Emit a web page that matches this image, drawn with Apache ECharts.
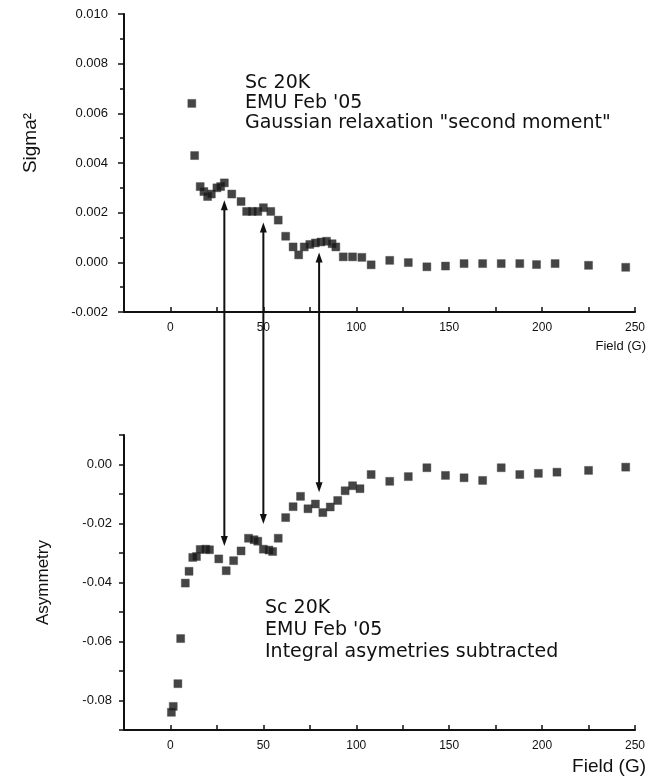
<!DOCTYPE html>
<html>
<head>
<meta charset="utf-8">
<script src="https://cdn.jsdelivr.net/npm/echarts@6/dist/echarts.min.js"></script>
<style>
  html, body { margin: 0; padding: 0; background: #fff; }
  #chart { width: 654px; height: 782px; }
</style>
</head>
<body>
<div id="chart"></div>
<script>
// Sigma^2 vs field (upper panel)
var sigmaData = [
    [11.5, 0.0064], [13, 0.0043], [16, 0.00305], [18, 0.00285], [20, 0.00265], [22, 0.00275],
    [25, 0.0030], [27, 0.00305], [29, 0.0032], [33, 0.00275], [38, 0.00245], [41, 0.00205],
    [44, 0.00205], [47, 0.00205], [50, 0.0022], [54, 0.00205], [58, 0.0017], [62, 0.00105],
    [66, 0.00062], [69, 0.0003], [72, 0.00062], [75, 0.00072], [78, 0.00078], [81, 0.00082],
    [84, 0.00085], [87, 0.00075], [89, 0.00062], [93, 0.00022], [98, 0.00022], [103, 0.0002],
    [108, -0.0001], [118, 0.00008], [128, -0.00001], [138, -0.00018], [148, -0.00015],
    [158, -0.00005], [168, -0.00005], [178, -0.00005], [188, -0.00005], [197, -0.00009],
    [207, -0.00005], [225, -0.00012], [245, -0.0002]
];

// Asymmetry vs field (lower panel)
var asymData = [
    [0.5, -0.084], [1.5, -0.082], [4, -0.0743], [5.5, -0.059], [8, -0.0402], [10, -0.0362],
    [12, -0.0315], [14, -0.0312], [16, -0.0288], [19, -0.0287], [21, -0.0289], [26, -0.032],
    [30, -0.036], [34, -0.0326], [38, -0.0293], [42, -0.025], [45, -0.0255], [47, -0.026],
    [50, -0.0287], [53, -0.029], [55, -0.0295], [58, -0.025], [62, -0.018], [66, -0.0143],
    [70, -0.0108], [74, -0.015], [78, -0.0134], [82, -0.0163], [86, -0.0144], [90, -0.0122],
    [94, -0.0089], [98, -0.0072], [102, -0.0082], [108, -0.0034], [118, -0.0057],
    [128, -0.0041], [138, -0.0011], [148, -0.0037], [158, -0.0045], [168, -0.0054],
    [178, -0.0011], [188, -0.0034], [198, -0.003], [208, -0.0026], [225, -0.002], [245, -0.0009]
];

// double arrows linking the two panels
var arrowField = [29, 50, 80];
var arrowTop = [0.0025, 0.0016, 0.0004];
var arrowBottom = [-0.0276, -0.0202, -0.0094];

var topNotes = ['Sc 20K', "EMU Feb '05", 'Gaussian relaxation "second moment"'];
var bottomNotes = ['Sc 20K', "EMU Feb '05", 'Integral asymetries subtracted'];

var tickFont = 'Liberation Sans, Arial, sans-serif';
var noteFont = '19px DejaVu Sans, sans-serif';

function fieldAxis(gridIndex) {
    return {
        type: 'value',
        gridIndex: gridIndex,
        min: -25,
        max: 250,
        interval: 25,
        axisLine: { show: true, onZero: false, lineStyle: { color: '#111', width: 2 } },
        axisTick: { show: true, inside: true, length: 5, lineStyle: { color: '#111', width: 1.5 } },
        axisLabel: {
            color: '#111', fontSize: 12, fontFamily: tickFont, margin: 10,
            formatter: function (v) { return v % 50 === 0 && v >= 0 ? String(v) : ''; }
        },
        splitLine: { show: false }
    };
}

var chartDom = document.getElementById('chart');
var myChart = echarts.init(chartDom);

var option = {
    backgroundColor: '#fff',
    animation: false,
    grid: [
        { left: 124, top: 14, right: 19, height: 298, outerBoundsMode: 'none' },
        { left: 124, top: 435, right: 19, height: 295, outerBoundsMode: 'none' }
    ],
    xAxis: [fieldAxis(0), fieldAxis(1)],
    yAxis: [
        {
            type: 'value',
            gridIndex: 0,
            min: -0.002,
            max: 0.010,
            interval: 0.002,
            axisLine: { show: true, onZero: false, lineStyle: { color: '#111', width: 2 } },
            axisTick: { show: true, length: 6, lineStyle: { color: '#111', width: 1.5 } },
            minorTick: { show: true, splitNumber: 2, length: 4, lineStyle: { color: '#111', width: 1.5 } },
            axisLabel: {
                color: '#111', fontSize: 13, fontFamily: tickFont, margin: 16,
                formatter: function (v) { return v.toFixed(3); }
            },
            splitLine: { show: false }
        },
        {
            type: 'value',
            gridIndex: 1,
            min: -0.09,
            max: 0.01,
            interval: 0.01,
            name: 'Asymmetry',
            nameLocation: 'middle',
            nameGap: 72,
            nameRotate: 90,
            nameTextStyle: { color: '#111', fontSize: 17, fontFamily: tickFont },
            axisLine: { show: true, onZero: false, lineStyle: { color: '#111', width: 2 } },
            axisTick: { show: true, length: 5, lineStyle: { color: '#111', width: 1.5 } },
            axisLabel: {
                color: '#111', fontSize: 13, fontFamily: tickFont, margin: 12,
                formatter: function (v) {
                    return Math.round(v * 100) % 2 === 0 ? v.toFixed(2) : '';
                }
            },
            splitLine: { show: false }
        }
    ],
    series: [
        {
            type: 'scatter',
            xAxisIndex: 0,
            yAxisIndex: 0,
            symbol: 'rect',
            symbolSize: 8,
            itemStyle: { color: '#161616', borderColor: '#444', borderWidth: 0.5 },
            data: sigmaData
        },
        {
            type: 'scatter',
            xAxisIndex: 1,
            yAxisIndex: 1,
            symbol: 'rect',
            symbolSize: 8,
            itemStyle: { color: '#161616', borderColor: '#444', borderWidth: 0.5 },
            data: asymData
        }
    ]
};

myChart.setOption(option);

// overlay: notes, axis titles and the linking arrows
var graphics = [];

topNotes.forEach(function (t, i) {
    graphics.push({
        type: 'text', x: 245, y: 83 + i * 20,
        style: { text: t, font: noteFont, fill: '#111', verticalAlign: 'middle' }
    });
});
bottomNotes.forEach(function (t, i) {
    graphics.push({
        type: 'text', x: 265, y: 608 + i * 22,
        style: { text: t, font: noteFont, fill: '#111', verticalAlign: 'middle' }
    });
});

graphics.push({
    type: 'text',
    x: 31, y: 143,
    rotation: Math.PI / 2,
    style: {
        text: 'Sigma²', font: '19px Liberation Sans, Arial, sans-serif', fill: '#111',
        align: 'center', verticalAlign: 'middle'
    }
});
graphics.push({
    type: 'text', x: 646, y: 346,
    style: {
        text: 'Field (G)', font: '13px Liberation Sans, Arial, sans-serif', fill: '#111',
        align: 'right', verticalAlign: 'middle'
    }
});
graphics.push({
    type: 'text', x: 646, y: 767,
    style: {
        text: 'Field (G)', font: '19px Liberation Sans, Arial, sans-serif', fill: '#111',
        align: 'right', verticalAlign: 'middle'
    }
});

arrowField.forEach(function (f, i) {
    var p1 = myChart.convertToPixel({ gridIndex: 0 }, [f, arrowTop[i]]);
    var p2 = myChart.convertToPixel({ gridIndex: 1 }, [f, arrowBottom[i]]);
    var x = p1[0];
    graphics.push({
        type: 'line',
        shape: { x1: x, y1: p1[1] + 8, x2: x, y2: p2[1] - 8 },
        style: { stroke: '#111', lineWidth: 2 }
    });
    graphics.push({
        type: 'polygon',
        shape: { points: [[x, p1[1]], [x - 3.5, p1[1] + 10], [x + 3.5, p1[1] + 10]] },
        style: { fill: '#111' }
    });
    graphics.push({
        type: 'polygon',
        shape: { points: [[x, p2[1]], [x - 3.5, p2[1] - 10], [x + 3.5, p2[1] - 10]] },
        style: { fill: '#111' }
    });
});

myChart.setOption({ graphic: graphics });
</script>
</body>
</html>
